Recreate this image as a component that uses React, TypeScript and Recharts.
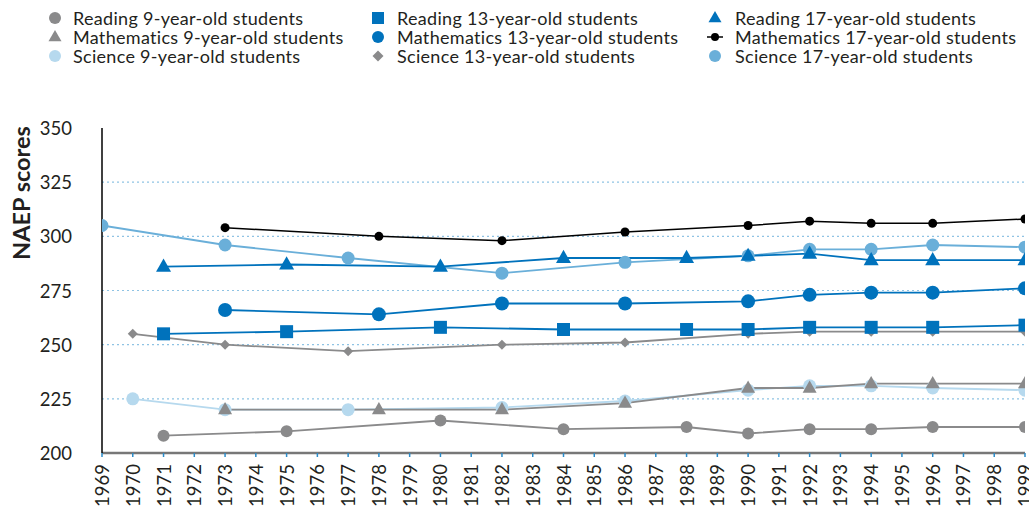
import React from "react";
import { LineChart, Line, XAxis, YAxis, CartesianGrid } from "recharts";

const years = [1969,1970,1971,1972,1973,1974,1975,1976,1977,1978,1979,1980,1981,1982,1983,1984,1985,1986,1987,1988,1989,1990,1991,1992,1993,1994,1995,1996,1997,1998,1999];
const yTicks = [200, 225, 250, 275, 300, 325, 350];
const gridValues = [225, 250, 275, 300, 325];

const reading9Years = [1971, 1975, 1980, 1984, 1988, 1990, 1992, 1994, 1996, 1999];
const reading9 = [208, 210, 215, 211, 212, 209, 211, 211, 212, 212];
const math9Years = [1973, 1978, 1982, 1986, 1990, 1992, 1994, 1996, 1999];
const math9 = [220, 220, 220, 223, 230, 230, 232, 232, 232];
const science9Years = [1970, 1973, 1977, 1982, 1986, 1990, 1992, 1994, 1996, 1999];
const science9 = [225, 220, 220, 221, 224, 229, 231, 231, 230, 229];
const reading13Years = [1971, 1975, 1980, 1984, 1988, 1990, 1992, 1994, 1996, 1999];
const reading13 = [255, 256, 258, 257, 257, 257, 258, 258, 258, 259];
const math13Years = [1973, 1978, 1982, 1986, 1990, 1992, 1994, 1996, 1999];
const math13 = [266, 264, 269, 269, 270, 273, 274, 274, 276];
const science13Years = [1970, 1973, 1977, 1982, 1986, 1990, 1992, 1994, 1996, 1999];
const science13 = [255, 250, 247, 250, 251, 255, 256, 256, 256, 256];
const reading17Years = [1971, 1975, 1980, 1984, 1988, 1990, 1992, 1994, 1996, 1999];
const reading17 = [286, 287, 286, 290, 290, 291, 292, 289, 289, 289];
const math17Years = [1973, 1978, 1982, 1986, 1990, 1992, 1994, 1996, 1999];
const math17 = [304, 300, 298, 302, 305, 307, 306, 306, 308];
const science17Years = [1969, 1973, 1977, 1982, 1986, 1990, 1992, 1994, 1996, 1999];
const science17 = [305, 296, 290, 283, 288, 291, 294, 294, 296, 295];

const GRAY = "#8a8a8b";
const BLUE = "#0072bc";
const LIGHT = "#b6d9ee";
const MID = "#6aafd9";
const FONT = "Lato, 'Open Sans', sans-serif";

type Shape = "circle" | "triangle" | "square" | "diamond";

const seriesDefs = [
  { key: "r9", name: "Reading 9-year-old students", years: reading9Years, values: reading9, color: GRAY, shape: "circle" as Shape, size: 6 },
  { key: "r13", name: "Reading 13-year-old students", years: reading13Years, values: reading13, color: BLUE, shape: "square" as Shape, size: 6.5 },
  { key: "r17", name: "Reading 17-year-old students", years: reading17Years, values: reading17, color: BLUE, shape: "triangle" as Shape, size: 7.5 },
  { key: "m9", name: "Mathematics 9-year-old students", years: math9Years, values: math9, color: GRAY, shape: "triangle" as Shape, size: 7 },
  { key: "m13", name: "Mathematics 13-year-old students", years: math13Years, values: math13, color: BLUE, shape: "circle" as Shape, size: 7 },
  { key: "m17", name: "Mathematics 17-year-old students", years: math17Years, values: math17, color: "#000000", shape: "circle" as Shape, size: 4.5 },
  { key: "s9", name: "Science 9-year-old students", years: science9Years, values: science9, color: LIGHT, shape: "circle" as Shape, size: 6.5 },
  { key: "s13", name: "Science 13-year-old students", years: science13Years, values: science13, color: GRAY, shape: "diamond" as Shape, size: 5 },
  { key: "s17", name: "Science 17-year-old students", years: science17Years, values: science17, color: MID, shape: "circle" as Shape, size: 6.5 },
];

const drawOrder = ["s9", "m9", "r9", "s13", "r13", "m13", "s17", "r17", "m17"];

const tableData = years.map((yr) => {
  const row: any = { year: yr };
  seriesDefs.forEach((s) => {
    const i = s.years.indexOf(yr);
    row[s.key] = i >= 0 ? s.values[i] : null;
  });
  return row;
});

function marker(shape: Shape, cx: number, cy: number, size: number, color: string, key?: any) {
  if (shape === "circle") return <circle key={key} cx={cx} cy={cy} r={size} fill={color} />;
  if (shape === "square") return <rect key={key} x={cx - size} y={cy - size} width={size * 2} height={size * 2} fill={color} />;
  if (shape === "diamond") return <path key={key} d={`M${cx},${cy - size} L${cx + size},${cy} L${cx},${cy + size} L${cx - size},${cy} Z`} fill={color} />;
  const h = size * 1.75;
  return <path key={key} d={`M${cx},${cy - h * 0.62} L${cx + size},${cy + h * 0.38} L${cx - size},${cy + h * 0.38} Z`} fill={color} />;
}

const XTick = (props: any) => {
  const { x, y, payload } = props;
  const yy = y + 5;
  return (
    <text x={x} y={yy} transform={`rotate(-90 ${x} ${yy})`} textAnchor="end" dominantBaseline="central" fontFamily={FONT} fontSize={18.5} fill="#231f20">
      {payload.value}
    </text>
  );
};

const YTick = (props: any) => {
  const { x, y, payload } = props;
  return (
    <text x={x} y={y} textAnchor="end" dominantBaseline="central" fontFamily={FONT} fontSize={18.5} fill="#231f20">
      {payload.value}
    </text>
  );
};

const YLabel = () => (
  <text x={21} y={193} transform="rotate(-90 21 193)" textAnchor="middle" dominantBaseline="central" fontFamily={FONT} fontWeight="bold" fontSize={23.5} fill="#231f20">
    NAEP scores
  </text>
);

const legendCols = [
  { iconX: 55, textX: 73 },
  { iconX: 378, textX: 397 },
  { iconX: 715, textX: 735 },
];
const legendRowsY = [18, 37, 56];

const LegendBlock = () => (
  <svg width={1029} height={70} style={{ position: "absolute", left: 0, top: 0 }}>
    {seriesDefs.map((s, i) => {
      const col = legendCols[i % 3];
      const row = Math.floor(i / 3);
      const cy = legendRowsY[row];
      const sz = s.key === "m17" ? 4 : s.shape === "diamond" ? 5.5 : s.shape === "triangle" ? 6.5 : 6;
      return (
        <g key={s.key}>
          {s.key === "m17" ? (
            <line x1={col.iconX - 8} x2={col.iconX + 8} y1={cy} y2={cy} stroke="#000" strokeWidth={1.5} />
          ) : null}
          {marker(s.shape, col.iconX, cy, sz, s.color)}
          <text x={col.textX} y={cy} dominantBaseline="central" fontFamily={FONT} fontSize={18} letterSpacing={0.3} fill="#231f20">
            {s.name}
          </text>
        </g>
      );
    })}
  </svg>
);

export default function App() {
  const defsByKey: any = {};
  seriesDefs.forEach((s) => (defsByKey[s.key] = s));
  return (
    <div style={{ position: "absolute", left: 0, top: 0, width: 1029, height: 507, background: "#fff", overflow: "hidden" }}>
      <LegendBlock />
      <div style={{ position: "absolute", left: 0, top: 0 }}>
        <LineChart width={1029} height={507} data={tableData} margin={{ top: 128, right: 4, bottom: 0, left: 0 }}>
          <CartesianGrid horizontal={true} vertical={false} horizontalValues={gridValues} stroke="#8fc3e4" strokeDasharray="2 3" strokeWidth={1.2} />
          <XAxis
            dataKey="year"
            type="number"
            domain={[1969, 1999]}
            ticks={years}
            interval={0}
            height={54}
            tick={<XTick />}
            tickLine={{ stroke: "#2a8bc9", strokeWidth: 1.5 }}
            tickSize={4}
            axisLine={{ stroke: "#777", strokeWidth: 2.5 }}
            allowDataOverflow
          />
          <YAxis
            type="number"
            domain={[200, 350]}
            ticks={yTicks}
            width={102}
            tick={<YTick />}
            tickLine={false}
            tickMargin={24}
            axisLine={{ stroke: "#000", strokeWidth: 1.5 }}
            label={<YLabel />}
          />
          {drawOrder.map((k) => {
            const s = defsByKey[k];
            const dotFn = (p: any) => {
              if (p.value == null || p.cy == null) return <g key={p.index} />;
              return marker(s.shape, p.cx, p.cy, s.size, s.color, p.index);
            };
            return (
              <Line
                key={k}
                dataKey={k}
                name={s.name}
                stroke={s.color}
                strokeWidth={k === "m17" ? 1.5 : 1.8}
                connectNulls
                dot={dotFn}
                activeDot={false}
                isAnimationActive={false}
              />
            );
          })}
        </LineChart>
      </div>
    </div>
  );
}
